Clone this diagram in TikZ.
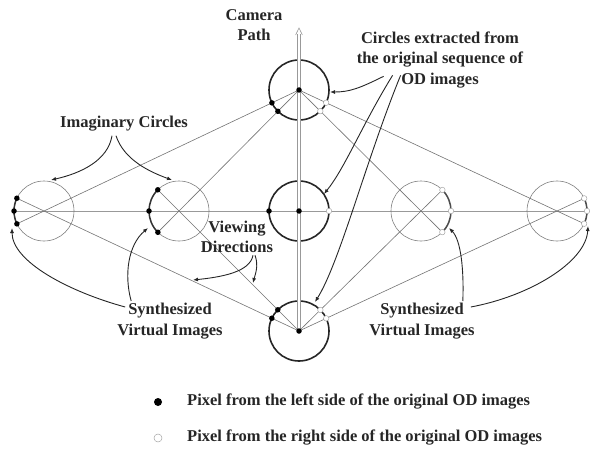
\documentclass[tikz,border=0pt]{standalone}
\usepackage{fontspec}
\setmainfont{Liberation Serif}
\usetikzlibrary{calc,arrows.meta}
\begin{document}
\begin{tikzpicture}[x=1pt,y=-1pt,
  lbl/.style={font=\fontsize{16.5}{20.5}\selectfont\bfseries, text=black!85, align=center, inner sep=0pt},
  ray/.style={draw=black!55, line width=0.6pt},
  axis/.style={draw=black!40, line width=0.6pt},
  imag/.style={draw=black!50, line width=0.6pt},
  orig/.style={draw=black!85, line width=1.6pt},
  seg/.style={draw=black!80, line width=1.5pt},
  pointer/.style={draw=black!85, line width=0.9pt, -{Latex[length=5pt,width=4pt]}},
  ldot/.style={circle, fill=black, inner sep=0pt, minimum size=5.5pt},
  rdot/.style={circle, fill=white, draw=black!35, line width=0.5pt, inner sep=0pt, minimum size=5.5pt},
]
\useasboundingbox (0,0) rectangle (590,452);

% centres of the original and imaginary circles
\coordinate (TC) at (299,90);
\coordinate (MC) at (299,211);
\coordinate (BC) at (299,331);
\coordinate (L1) at (44,211);
\coordinate (L2) at (179,211);
\coordinate (R1) at (421,211);
\coordinate (R2) at (557,211);

% far-side points of the imaginary circles along each viewing ray
\foreach \i in {L1,L2,R1,R2}{
  \coordinate (\i t) at ($(\i)!-30pt!(TC)$);
  \coordinate (\i b) at ($(\i)!-30pt!(BC)$);
}
% pixel points on the original circles
\foreach \i in {L1,L2,R1,R2}{
  \coordinate (T\i) at ($(TC)!30pt!(\i)$);
  \coordinate (B\i) at ($(BC)!30pt!(\i)$);
}

% horizontal axis
\draw[axis] (12,211) -- (590,211);

% viewing rays
\foreach \i in {L1,L2,R1,R2}{
  \draw[ray] (TC) -- (\i t);
  \draw[ray] (BC) -- (\i b);
}

% imaginary circles
\foreach \i in {L1,L2,R1,R2}{
  \draw[imag] (\i) circle[radius=30];
}

% original circles
\foreach \i in {TC,MC,BC}{
  \draw[orig] (\i) circle[radius=30];
}

% synthesized virtual images (arcs)
\draw[seg] ($(L1)+(152:30)$) arc[start angle=152, end angle=208, radius=30];
\draw[seg] ($(L2)+(135:30)$) arc[start angle=135, end angle=225, radius=30];
\draw[seg, draw=black!70] ($(R1)+(-45:30)$) arc[start angle=-45, end angle=45, radius=30];
\draw[seg, draw=black!70] ($(R2)+(-27:30)$) arc[start angle=-27, end angle=27, radius=30];

% camera path
\coordinate (camtop) at (299,28);
\draw[axis, double=white, double distance=2.4pt] (BC) -- (299,34);
\draw[axis] (295.6,35) -- (camtop) -- (302.4,35);

% pixel dots
\foreach \i in {TC,MC,BC}{ \node[ldot] at (\i) {}; }
\node[ldot] at ($(MC)+(-30,0)$) {};
\node[rdot] at ($(MC)+(30,0)$) {};
\foreach \i in {L1,L2}{
  \node[ldot] at (T\i) {};
  \node[ldot] at (B\i) {};
  \node[ldot] at (\i t) {};
  \node[ldot] at (\i b) {};
  \node[ldot] at ($(\i)+(-30,0)$) {};
}
\foreach \i in {R1,R2}{
  \node[rdot] at (T\i) {};
  \node[rdot] at (B\i) {};
  \node[rdot] at (\i t) {};
  \node[rdot] at (\i b) {};
  \node[rdot] at ($(\i)+(30,0)$) {};
}

% labels
\node[lbl] (cam) at (254,25) {Camera\\Path};
\node[lbl] (ext) at (440,60) {Circles extracted from\\the original sequence of\\OD images};
\node[lbl] (img) at (124,124) {Imaginary Circles};
\node[lbl] (view) at (237,237) {Viewing\\Directions};
\node[lbl] (synL) at (170,321) {Synthesized\\Virtual Images};
\node[lbl] (synR) at (422,321) {Synthesized\\Virtual Images};

% pointer targets
\coordinate (pTC) at (330,92);
\coordinate (pMC) at (324,194);
\coordinate (pBC) at (315,302);
\coordinate (pL1) at (51,180);
\coordinate (pL2) at (172,180);
\coordinate (vA) at (193,280);
\coordinate (vB) at (253,283);
\coordinate (sL1) at (12,228);
\coordinate (sL2) at (148,228);
\coordinate (sR1) at (449,228);
\coordinate (sR2) at (588,226);

% pointers
\draw[pointer] ($(ext.south west)+(27,-12)$) .. controls (360,88) and (350,92) .. (pTC);
\draw[pointer] ($(ext.south west)+(36,-13)$) .. controls (362,125) and (345,168) .. (pMC);
\draw[pointer] ($(ext.south west)+(44,-13)$) .. controls (366,160) and (340,262) .. (pBC);
\draw[pointer] ($(img.south)+(-12,4)$) .. controls (108,160) and (82,173) .. (pL1);
\draw[pointer] ($(img.south)+(-8,4)$) .. controls (124,160) and (150,172) .. (pL2);
\draw[pointer] ($(view.south)+(16,2)$) .. controls (250,272) and (222,277) .. (vA);
\draw[pointer] ($(view.south)+(18,2)$) .. controls (259,266) and (255,275) .. (vB);
\draw[pointer] ($(synL.north west)+(8,4)$) .. controls (70,292) and (12,262) .. (sL1);
\draw[pointer] ($(synL.north west)+(14,-2)$) .. controls (124,275) and (128,245) .. (sL2);
\draw[pointer] ($(synR.north east)+(-12,-2)$) .. controls (464,270) and (461,240) .. (sR1);
\draw[pointer] ($(synR.north east)+(-4,4)$) .. controls (530,296) and (586,262) .. (sR2);

% legend
\node[ldot, minimum size=8pt] (kL) at (158,402) {};
\node[rdot, minimum size=8pt] (kR) at (158,438) {};
\node[lbl, anchor=west] at (187,402) {Pixel from the left side of the original OD images};
\node[lbl, anchor=west] at (187,438) {Pixel from the right side of the original OD images};
\end{tikzpicture}
\end{document}
